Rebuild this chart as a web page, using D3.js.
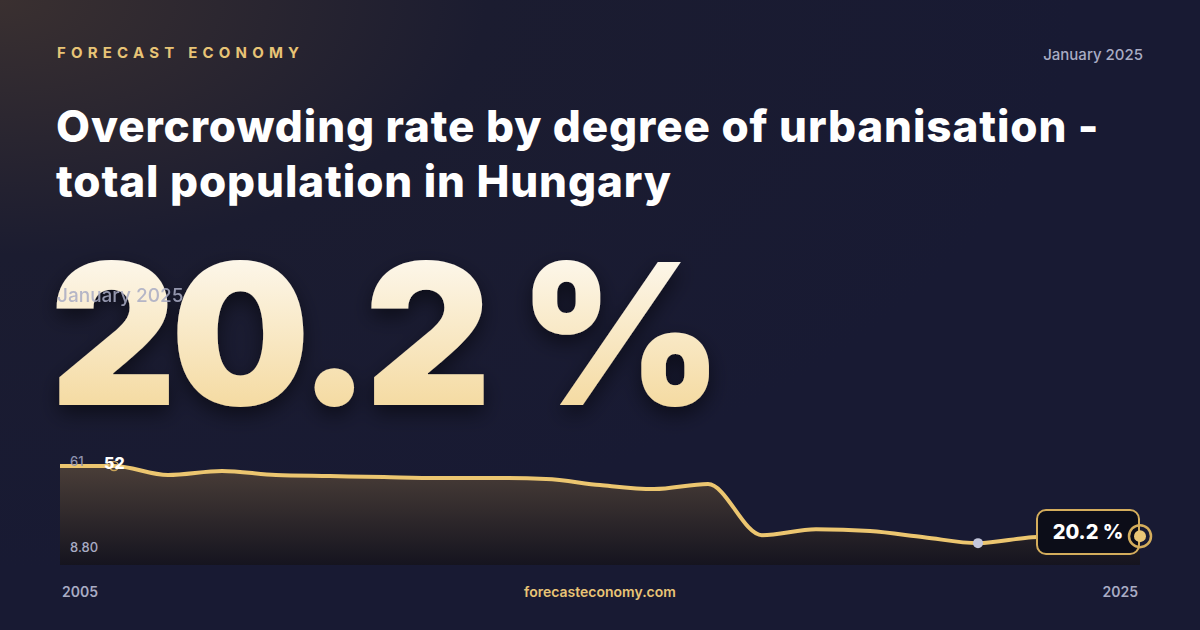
<!DOCTYPE html><html><head><meta charset="utf-8">
<script src="https://cdn.jsdelivr.net/npm/d3@7"></script>
<style>body{margin:0;background:#171a30}svg{display:block}</style></head><body>
<svg id="c" width="1200" height="630"></svg>
<script>
const years=[2005,2006,2007,2008,2009,2010,2011,2012,2013,2014,2015,2016,2017,2018,2019,2020,2021,2022,2023,2024,2025];
const values=[59.9,59.9,54.7,57,54.7,54.1,53.5,53,53,52.4,48.9,46.6,49.5,20.2,23.6,22.5,19,15.6,19,20,20.2];
const yTicks=["61","8.80"];
const svg=d3.select("#c");
const defs=svg.append("defs");
const bg=defs.append("radialGradient").attr("id","bg").attr("cx","0").attr("cy","0").attr("r","0.9");
bg.append("stop").attr("offset","0").attr("stop-color","#3a3030");
bg.append("stop").attr("offset","0.45").attr("stop-color","#1b1c30");
bg.append("stop").attr("offset","1").attr("stop-color","#181a33");
const tg=defs.append("linearGradient").attr("id","tg").attr("x1",0).attr("y1",0).attr("x2",0).attr("y2",1);
tg.append("stop").attr("offset","0").attr("stop-color","#ffffff");
tg.append("stop").attr("offset","1").attr("stop-color","#f2d28c");
const ag=defs.append("linearGradient").attr("id","ag").attr("x1",0).attr("y1",0).attr("x2",0).attr("y2",1);
ag.append("stop").attr("offset","0").attr("stop-color","#4a3e38");
ag.append("stop").attr("offset","1").attr("stop-color","#15141f");
const sh=defs.append("filter").attr("id","sh").attr("x","-10%").attr("y","-10%").attr("width","130%").attr("height","140%");
sh.append("feDropShadow").attr("dx",0).attr("dy",8).attr("stdDeviation",10).attr("flood-color","#000").attr("flood-opacity",0.5);
svg.append("rect").attr("width",1200).attr("height",630).attr("fill","url(#bg)");
const F="Inter, 'Noto Sans', sans-serif";
svg.append("text").attr("x",57).attr("y",58).attr("fill","#e8c476").attr("font-family",F).attr("font-weight",700).attr("font-size",15).attr("letter-spacing",5.2).text("FORECAST ECONOMY");
svg.append("text").attr("x",1143).attr("y",60).attr("text-anchor","end").attr("fill","#a9acc4").attr("font-family",F).attr("font-weight",500).attr("font-size",15).text("January 2025");
const tt=svg.append("text").attr("fill","#fff").attr("font-family",F).attr("font-weight",800).attr("font-size",44).attr("letter-spacing",0.9);
tt.append("tspan").attr("x",56).attr("y",142).text("Overcrowding rate by degree of urbanisation -");
tt.append("tspan").attr("x",56).attr("y",197).text("total population in Hungary");
svg.append("text").attr("x",50).attr("y",405).attr("fill","url(#tg)").attr("filter","url(#sh)").attr("font-family",F).attr("font-weight",900).attr("font-size",196).attr("letter-spacing",-6).text("20.2 %");
svg.append("text").attr("x",57).attr("y",302).attr("fill","#a9acc4").attr("opacity",0.85).attr("font-family",F).attr("font-weight",500).attr("font-size",19).text("January 2025");
const x=d3.scaleLinear().domain([2005,2025]).range([60,1140]);
const y=d3.scaleLinear().domain([8.8,61]).range([555,464]);
const area=d3.area().x((d,i)=>x(years[i])).y0(565).y1(d=>y(d)).curve(d3.curveMonotoneX);
const line=d3.line().x((d,i)=>x(years[i])).y(d=>y(d)).curve(d3.curveMonotoneX);
svg.append("path").datum(values).attr("d",area).attr("fill","url(#ag)");
svg.append("path").datum(values).attr("d",line).attr("fill","none").attr("stroke","#ecc670").attr("stroke-width",4);
svg.append("text").attr("x",70).attr("y",466).attr("fill","#8f93b0").attr("font-family",F).attr("font-size",13).attr("font-weight",500).text(yTicks[0]);
svg.append("text").attr("x",70).attr("y",552).attr("fill","#a9acc4").attr("font-family",F).attr("font-size",13).attr("font-weight",500).text(yTicks[1]);
svg.append("circle").attr("cx",x(2006)).attr("cy",y(values[1])).attr("r",4.5).attr("fill","none").attr("stroke","#c9a45a").attr("stroke-width",1.5);
svg.append("text").attr("x",104).attr("y",469).attr("fill","#fff").attr("font-family",F).attr("font-size",16).attr("font-weight",800).text("52");
svg.append("circle").attr("cx",x(2022)).attr("cy",y(values[17])).attr("r",5).attr("fill","#c4c7dc");
const lx=x(2025),ly=y(values[20]);
svg.append("rect").attr("x",1037).attr("y",510).attr("width",102).attr("height",44).attr("rx",9).attr("fill","#0c0d18").attr("stroke","#d4ad5c").attr("stroke-width",2);
svg.append("text").attr("x",1088).attr("y",539).attr("text-anchor","middle").attr("fill","#fff").attr("font-family",F).attr("font-weight",800).attr("font-size",20).text("20.2 %");
svg.append("circle").attr("cx",lx).attr("cy",ly+1).attr("r",11).attr("fill","none").attr("stroke","#d4ad5c").attr("stroke-width",2.5);
svg.append("circle").attr("cx",lx).attr("cy",ly+1).attr("r",6).attr("fill","#e9c676");
svg.append("text").attr("x",62).attr("y",597).attr("fill","#a9acc4").attr("font-family",F).attr("font-weight",600).attr("font-size",14).text(years[0]);
svg.append("text").attr("x",1138).attr("y",597).attr("text-anchor","end").attr("fill","#a9acc4").attr("font-family",F).attr("font-weight",600).attr("font-size",14).text(years[20]);
svg.append("text").attr("x",600).attr("y",597).attr("text-anchor","middle").attr("fill","#e8c476").attr("font-family",F).attr("font-weight",600).attr("font-size",14).text("forecasteconomy.com");
</script></body></html>
